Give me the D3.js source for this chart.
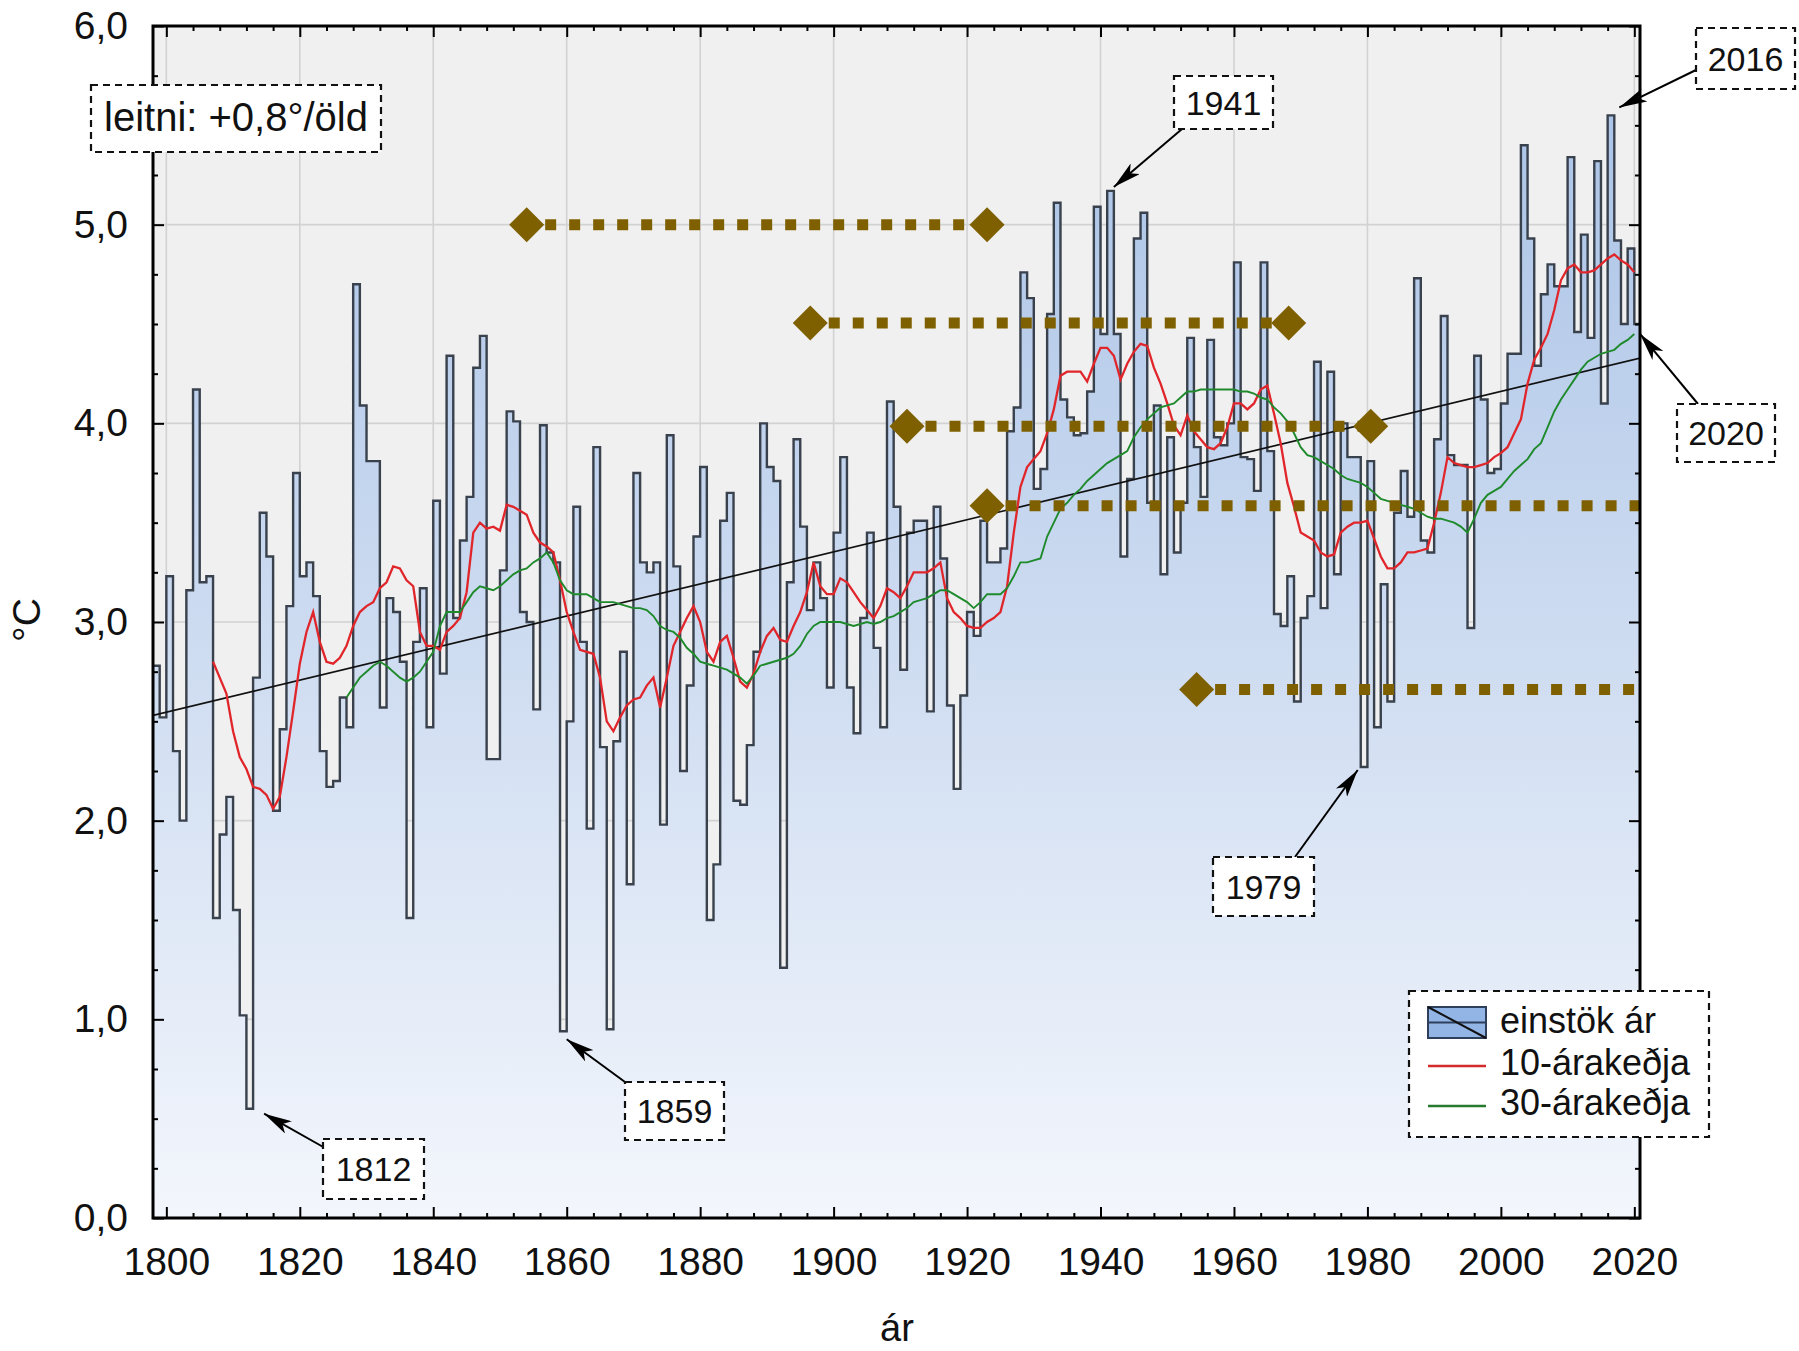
<!DOCTYPE html>
<html><head><meta charset="utf-8">
<script src="https://cdn.jsdelivr.net/npm/d3@7"></script>
<style>
body{margin:0;background:#fff}
svg{display:block}
text{font-family:"Liberation Sans",Arial,Helvetica,sans-serif;fill:#111}
</style>
</head><body>
<svg id="chart" width="1799" height="1351"></svg>
<script>
// ---------------- data ----------------
const firstYear = 1798;
// annual mean temperature, one value per year 1798..2020
const annual = [
 2.78,2.52,3.23,2.35,2.00,3.16,4.17,3.20,3.23,1.51,
 1.93,2.12,1.55,1.02,0.55,2.72,3.55,3.33,2.05,2.46,
 3.08,3.75,3.23,3.30,3.13,2.35,2.17,2.20,2.62,2.47,
 4.70,4.09,3.81,3.81,2.57,3.12,3.05,2.80,1.51,2.90,
 3.17,2.47,3.61,2.74,4.34,3.02,3.41,3.63,4.28,4.44,
 2.31,2.31,3.26,4.06,4.01,3.05,3.00,2.56,3.99,3.35,
 3.30,0.94,2.50,3.58,2.90,1.96,3.88,2.37,0.95,2.40,
 2.85,1.68,3.75,3.30,3.25,3.30,1.98,3.94,3.28,2.25,
 2.68,3.43,3.78,1.50,1.78,3.51,3.65,2.10,2.08,2.38,
 2.85,4.00,3.78,3.71,1.26,3.20,3.92,3.48,3.06,3.30,
 3.12,2.67,3.45,3.83,2.67,2.44,3.02,3.45,2.87,2.47,
 4.11,3.58,2.76,3.45,3.51,3.51,2.55,3.58,3.32,2.58,
 2.16,2.63,3.05,2.93,3.51,3.30,3.30,3.37,3.96,4.08,
 4.76,4.63,3.67,3.77,4.55,5.11,4.12,4.03,3.94,3.95,
 4.16,5.09,4.45,5.17,4.45,3.33,3.72,4.93,5.06,3.60,
 4.09,3.24,3.93,3.35,3.60,4.43,3.88,3.63,4.42,3.93,
 3.89,4.00,4.81,3.83,3.82,3.66,4.81,3.86,3.04,2.98,
 3.23,2.60,3.02,3.13,4.31,3.07,4.26,3.24,4.00,3.83,
 3.83,2.27,3.81,2.47,3.19,2.60,3.55,3.76,3.53,4.73,
 3.41,3.35,3.92,4.54,3.84,3.79,3.79,2.97,4.34,4.12,
 3.75,3.77,4.10,4.35,4.35,5.40,4.93,4.29,4.65,4.80,
 4.69,4.69,5.34,4.46,4.95,4.43,5.32,4.10,5.55,4.92,
 4.50,4.88,4.50
];
// 10-year running mean (red), read per year from 1807
const ma10Start = 1807;
const ma10 = [
 2.80,2.72,2.64,2.45,2.32,2.26,2.17,2.16,2.13,2.06,
 2.12,2.32,2.55,2.79,2.95,3.05,2.90,2.80,2.79,2.82,
 2.88,2.98,3.05,3.08,3.10,3.17,3.20,3.28,3.27,3.21,
 3.18,2.95,2.88,2.88,2.86,2.95,2.98,3.02,3.15,3.45,
 3.50,3.47,3.48,3.46,3.59,3.58,3.56,3.54,3.45,3.40,
 3.38,3.35,3.21,3.05,2.95,2.86,2.85,2.84,2.72,2.50,
 2.45,2.52,2.58,2.61,2.62,2.68,2.72,2.57,2.72,2.88,
 2.95,3.02,3.08,3.00,2.85,2.80,2.90,2.93,2.82,2.70,
 2.67,2.74,2.85,2.93,2.97,2.91,2.90,2.98,3.05,3.15,
 3.30,3.18,3.14,3.14,3.22,3.20,3.15,3.10,3.06,3.02,
 3.08,3.17,3.15,3.12,3.18,3.25,3.25,3.25,3.27,3.30,
 3.12,3.05,3.02,2.98,2.97,2.97,3.00,3.02,3.05,3.18,
 3.45,3.68,3.78,3.82,3.86,3.95,4.07,4.24,4.26,4.26,
 4.26,4.21,4.30,4.38,4.38,4.34,4.22,4.30,4.36,4.40,
 4.39,4.28,4.20,4.10,3.99,3.94,4.04,3.96,3.92,3.88,
 3.87,3.90,3.98,4.10,4.10,4.07,4.10,4.17,4.19,4.05,
 3.90,3.70,3.58,3.45,3.43,3.41,3.35,3.33,3.34,3.45,
 3.48,3.50,3.50,3.51,3.42,3.33,3.27,3.27,3.30,3.35,
 3.35,3.36,3.37,3.50,3.65,3.83,3.80,3.79,3.78,3.78,
 3.79,3.80,3.83,3.85,3.88,3.95,4.02,4.20,4.32,4.38,
 4.45,4.57,4.72,4.78,4.80,4.76,4.76,4.77,4.80,4.83,
 4.85,4.82,4.80,4.76
];
// 30-year running mean (green), read per year from 1827
const ma30Start = 1827;
const ma30 = [
 2.62,2.67,2.72,2.75,2.78,2.80,2.78,2.75,2.72,2.70,
 2.72,2.75,2.80,2.85,2.98,3.05,3.05,3.05,3.10,3.15,
 3.18,3.17,3.16,3.18,3.21,3.24,3.26,3.27,3.30,3.32,
 3.35,3.30,3.21,3.16,3.14,3.14,3.14,3.12,3.10,3.10,
 3.10,3.09,3.08,3.07,3.07,3.06,3.03,2.98,2.96,2.95,
 2.92,2.87,2.84,2.80,2.79,2.78,2.77,2.76,2.74,2.72,
 2.69,2.73,2.78,2.79,2.80,2.81,2.82,2.84,2.88,2.94,
 2.98,3.00,3.00,3.00,3.00,2.99,2.98,2.99,3.00,2.99,
 3.00,3.02,3.03,3.05,3.07,3.10,3.11,3.12,3.14,3.16,
 3.16,3.14,3.12,3.10,3.07,3.10,3.14,3.14,3.14,3.17,
 3.23,3.30,3.30,3.31,3.32,3.43,3.50,3.57,3.60,3.64,
 3.67,3.71,3.74,3.77,3.80,3.82,3.84,3.86,3.93,3.98,
 4.02,4.05,4.08,4.09,4.10,4.13,4.16,4.16,4.17,4.17,
 4.17,4.17,4.17,4.17,4.16,4.16,4.15,4.13,4.12,4.08,
 4.05,4.01,3.95,3.88,3.84,3.83,3.81,3.79,3.77,3.74,
 3.72,3.71,3.70,3.68,3.65,3.62,3.61,3.60,3.59,3.58,
 3.57,3.55,3.53,3.52,3.52,3.51,3.50,3.48,3.45,3.52,
 3.60,3.64,3.66,3.68,3.72,3.76,3.79,3.82,3.87,3.90,
 3.98,4.06,4.12,4.17,4.22,4.27,4.31,4.33,4.35,4.36,
 4.37,4.40,4.42,4.45
];
// linear trend (leitni +0,8°/öld), end points
const trendYears = [1798, 2021];
const trendValues = [2.53, 4.33];
// dotted reference levels with diamond markers
const refLevels = [5.0, 4.505, 3.985, 3.585, 2.66];
const refFrom   = [1854.0, 1896.5, 1911.0, 1923.0, 1954.4];
const refTo     = [1923.0, 1968.2, 1980.5, null, null];
// axes
const xTickYears = [1800,1820,1840,1860,1880,1900,1920,1940,1960,1980,2000,2020];
const yTickValues = [0,1,2,3,4,5,6];
// labels
const calloutYears = [1812, 1859, 1941, 1979, 2016, 2020];
const legendLabels = ["einstök ár", "10-árakeðja", "30-árakeðja"];
const trendLabel = "leitni: +0,8°/öld";
const xTitle = "ár", yTitle = "°C";

// ---------------- layout ----------------
const L = 153, R = 1640, T = 26, B = 1218;
const svg = d3.select("#chart");
const x = d3.scaleLinear().domain([1798, 2020.85]).range([L, R]);
const y = d3.scaleLinear().domain([0, 6]).range([B, T]);
const valOf = yr => annual[yr - firstYear];

const defs = svg.append("defs");
defs.append("clipPath").attr("id", "plotClip")
  .append("rect").attr("x", L).attr("y", T).attr("width", R - L).attr("height", B - T);
const grad = defs.append("linearGradient").attr("id", "barFill")
  .attr("gradientUnits", "userSpaceOnUse")
  .attr("x1", 0).attr("x2", 0).attr("y1", y(6)).attr("y2", y(0));
grad.append("stop").attr("offset", "0%").attr("stop-color", "#a6c0e5");
grad.append("stop").attr("offset", "100%").attr("stop-color", "#f3f6fc");
defs.append("marker").attr("id", "arrow")
  .attr("viewBox", "0 0 28 14").attr("refX", 28).attr("refY", 7)
  .attr("markerWidth", 28).attr("markerHeight", 14)
  .attr("markerUnits", "userSpaceOnUse").attr("orient", "auto")
  .append("path").attr("d", "M0,0 L28,7 L0,14 L7,7 Z").attr("fill", "#000");

// plot background
svg.append("rect").attr("x", L).attr("y", T).attr("width", R - L).attr("height", B - T).attr("fill", "#f0f0f0");

// grid
const grid = svg.append("g").attr("stroke", "#d2d2d2").attr("stroke-width", 1.6);
grid.selectAll("line.v").data(xTickYears).join("line")
  .attr("x1", d => x(d)).attr("x2", d => x(d)).attr("y1", T).attr("y2", B);
grid.selectAll("line.h").data(yTickValues.slice(1, -1)).join("line")
  .attr("x1", L).attr("x2", R).attr("y1", d => y(d)).attr("y2", d => y(d));

const plot = svg.append("g").attr("clip-path", "url(#plotClip)");

// step area (individual years)
const pts = annual.map((v, i) => [firstYear + i, v]);
pts.push([firstYear + annual.length, annual[annual.length - 1]]);
plot.append("path").datum(pts)
  .attr("d", d3.area().curve(d3.curveStepAfter).x(d => x(d[0])).y0(y(0)).y1(d => y(d[1])))
  .attr("fill", "url(#barFill)");
plot.append("path").datum(pts)
  .attr("d", d3.line().curve(d3.curveStepAfter).x(d => x(d[0])).y(d => y(d[1])))
  .attr("fill", "none").attr("stroke", "#39414d").attr("stroke-width", 2.4)
  .attr("stroke-linejoin", "miter");

// trend line
plot.append("line")
  .attr("x1", x(trendYears[0])).attr("y1", y(trendValues[0]))
  .attr("x2", x(trendYears[1])).attr("y2", y(trendValues[1]))
  .attr("stroke", "#111").attr("stroke-width", 1.7);

// running means
const lineGen = d3.line().x(d => x(d[0])).y(d => y(d[1]));
plot.append("path").datum(ma10.map((v, i) => [ma10Start + i, v]))
  .attr("d", lineGen).attr("fill", "none").attr("stroke", "#e0262b").attr("stroke-width", 2.3);
plot.append("path").datum(ma30.map((v, i) => [ma30Start + i, v]))
  .attr("d", lineGen).attr("fill", "none").attr("stroke", "#1e8a2c").attr("stroke-width", 1.9);

// dotted reference levels
const gold = "#7f6000";
const diamond = "M0,-17.5 L17.5,0 L0,17.5 L-17.5,0 Z";
refLevels.forEach((lv, i) => {
  const x0 = x(refFrom[i]);
  const x1 = refTo[i] == null ? R : x(refTo[i]);
  plot.append("line").attr("x1", x0).attr("x2", x1).attr("y1", y(lv)).attr("y2", y(lv))
    .attr("stroke", gold).attr("stroke-width", 11)
    .attr("stroke-dasharray", "11 13").attr("stroke-dashoffset", 5.5);
  plot.append("path").attr("d", diamond).attr("transform", `translate(${x0},${y(lv)})`).attr("fill", gold);
  if (refTo[i] != null)
    plot.append("path").attr("d", diamond).attr("transform", `translate(${x1},${y(lv)})`).attr("fill", gold);
});

// frame
svg.append("rect").attr("x", L).attr("y", T).attr("width", R - L).attr("height", B - T)
  .attr("fill", "none").attr("stroke", "#000").attr("stroke-width", 3);

// axes
function styleAxis(g) {
  g.attr("font-size", null).attr("font-family", null);
  g.select(".domain").remove();
  g.selectAll(".tick line").attr("stroke", "#000").attr("stroke-width", 2);
}
const minorX = d3.range(1800, 2021, 4).filter(d => d % 20 !== 0);
const minorY = d3.range(0, 6.01, 0.25).filter(d => Math.abs(d - Math.round(d)) > 1e-6);
const fmtY = d => d.toFixed(1).replace(".", ",");

const gxb = svg.append("g").attr("transform", `translate(0,${B})`)
  .call(d3.axisBottom(x).tickValues(xTickYears).tickSizeInner(-11).tickSizeOuter(0).tickPadding(29).tickFormat(d3.format("d")));
styleAxis(gxb);
gxb.selectAll("text").attr("font-size", 39);
svg.append("g").attr("transform", `translate(0,${B})`)
  .call(d3.axisBottom(x).tickValues(minorX).tickSizeInner(-5).tickSizeOuter(0).tickFormat("")).call(styleAxis);
svg.append("g").attr("transform", `translate(0,${T})`)
  .call(d3.axisTop(x).tickValues(xTickYears).tickSizeInner(-11).tickSizeOuter(0).tickFormat("")).call(styleAxis);
svg.append("g").attr("transform", `translate(0,${T})`)
  .call(d3.axisTop(x).tickValues(minorX).tickSizeInner(-5).tickSizeOuter(0).tickFormat("")).call(styleAxis);

const gyl = svg.append("g").attr("transform", `translate(${L},0)`)
  .call(d3.axisLeft(y).tickValues(yTickValues).tickSizeInner(-11).tickSizeOuter(0).tickPadding(25).tickFormat(fmtY));
styleAxis(gyl);
gyl.selectAll("text").attr("font-size", 39);
svg.append("g").attr("transform", `translate(${L},0)`)
  .call(d3.axisLeft(y).tickValues(minorY).tickSizeInner(-5).tickSizeOuter(0).tickFormat("")).call(styleAxis);
svg.append("g").attr("transform", `translate(${R},0)`)
  .call(d3.axisRight(y).tickValues(yTickValues).tickSizeInner(-11).tickSizeOuter(0).tickFormat("")).call(styleAxis);
svg.append("g").attr("transform", `translate(${R},0)`)
  .call(d3.axisRight(y).tickValues(minorY).tickSizeInner(-5).tickSizeOuter(0).tickFormat("")).call(styleAxis);

// axis titles
svg.append("text").attr("x", 897).attr("y", 1341).attr("text-anchor", "middle").attr("font-size", 38).text(xTitle);
svg.append("text").attr("transform", "translate(40,620) rotate(-90)").attr("text-anchor", "middle").attr("font-size", 39).text(yTitle);

// dashed text boxes
function dashedBox(x0, y0, w, h) {
  svg.append("rect").attr("x", x0).attr("y", y0).attr("width", w).attr("height", h)
    .attr("fill", "#fff").attr("stroke", "#111").attr("stroke-width", 2.2)
    .attr("stroke-dasharray", "7 5");
}
// trend box
dashedBox(91, 85, 290, 67);
svg.append("text").attr("x", 104).attr("y", 131).attr("font-size", 40).text(trendLabel);

// callouts: box [x, y, w, h], arrow tail, arrow tip (tip from data via scales)
const callouts = [
  {box: [323, 1139, 101, 60], tail: [325, 1148], tip: [x(1813) + 11, y(valOf(1812)) + 5]},
  {box: [625, 1082, 99, 58],  tail: [625, 1082], tip: [x(1860), y(valOf(1859)) + 8]},
  {box: [1174, 76, 99, 53],   tail: [1182, 129], tip: [x(1942), y(valOf(1941)) - 4]},
  {box: [1213, 857, 101, 59], tail: [1295, 857], tip: [x(1978.55), y(valOf(1979)) + 3]},
  {box: [1696, 28, 99, 61],   tail: [1696, 70],  tip: [x(2017) + 5, y(valOf(2016)) - 8]},
  {box: [1677, 404, 98, 58],  tail: [1698, 404], tip: [R, y(ma30[ma30.length - 1])]}
];
callouts.forEach((c, i) => {
  svg.append("line").attr("x1", c.tail[0]).attr("y1", c.tail[1]).attr("x2", c.tip[0]).attr("y2", c.tip[1])
    .attr("stroke", "#000").attr("stroke-width", 2).attr("marker-end", "url(#arrow)");
});
callouts.forEach((c, i) => {
  const [bx, by, bw, bh] = c.box;
  dashedBox(bx, by, bw, bh);
  svg.append("text").attr("x", bx + bw / 2).attr("y", by + bh / 2 + 12)
    .attr("text-anchor", "middle").attr("font-size", 34).text(String(calloutYears[i]));
});

// legend
dashedBox(1409, 991, 300, 146);
const lg = svg.append("g");
lg.append("rect").attr("x", 1428).attr("y", 1007).attr("width", 58).attr("height", 31)
  .attr("fill", "#93b5e5").attr("stroke", "#2e3f5c").attr("stroke-width", 2);
lg.append("line").attr("x1", 1428).attr("x2", 1486).attr("y1", 1022.5).attr("y2", 1022.5).attr("stroke", "#2e3f5c").attr("stroke-width", 2);
lg.append("line").attr("x1", 1428).attr("x2", 1486).attr("y1", 1007).attr("y2", 1038).attr("stroke", "#111").attr("stroke-width", 2);
lg.append("line").attr("x1", 1428).attr("x2", 1486).attr("y1", 1066).attr("y2", 1066).attr("stroke", "#d42a2a").attr("stroke-width", 2.5);
lg.append("line").attr("x1", 1428).attr("x2", 1486).attr("y1", 1106).attr("y2", 1106).attr("stroke", "#257a2e").attr("stroke-width", 2.5);
const legY = [1033, 1075, 1115];
legendLabels.forEach((t, i) => {
  lg.append("text").attr("x", 1500).attr("y", legY[i]).attr("font-size", 36).text(t);
});
</script>
</body></html>
